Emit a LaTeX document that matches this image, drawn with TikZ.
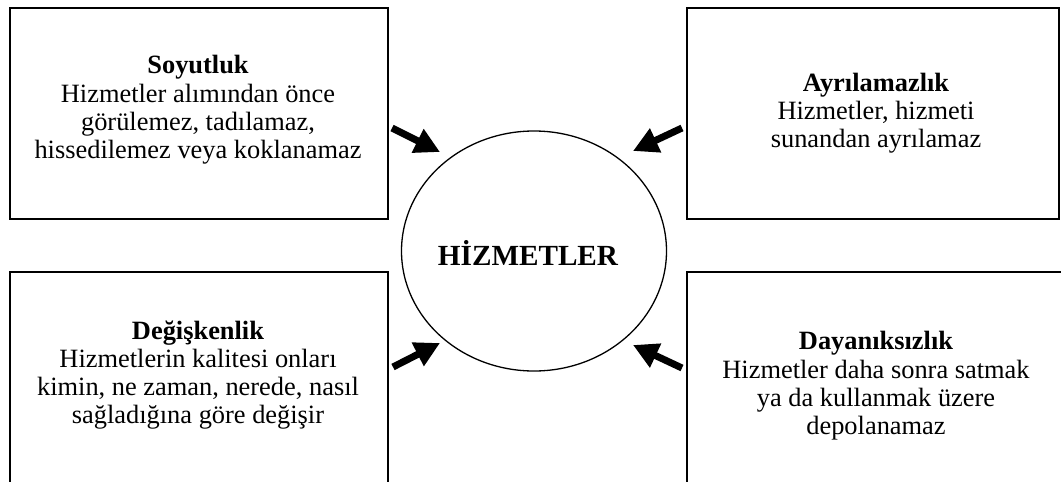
\documentclass[tikz,border=0pt]{standalone}
\usepackage{fontspec}
\setmainfont{Liberation Serif}
\usetikzlibrary{arrows.meta,shapes.geometric}
\begin{document}
\begin{tikzpicture}[x=1pt,y=-1pt,
  box/.style={draw, line width=1.6pt, inner sep=0pt, anchor=north west},
  boxtext/.style={align=center, inner sep=0pt, font=\fontsize{26.4}{28.3}\selectfont},
  arr/.style={line width=7pt, -{Triangle[length=25pt,width=25pt]}}]
\useasboundingbox (0,0) rectangle (1061,482);
\clip (0,0) rectangle (1061,482);
\node[box, minimum width=378pt, minimum height=211pt] (b1) at (9,7) {};
\node[box, minimum width=372pt, minimum height=211pt] (b2) at (686,7) {};
\node[box, minimum width=378pt, minimum height=215pt] (b3) at (9,271) {};
\node[box, minimum width=380pt, minimum height=215pt] (b4) at (686,271) {};
\node[boxtext] (t1) at (198,110) {\textbf{Soyutluk}\\Hizmetler alımından önce\\görülemez, tadılamaz,\\hissedilemez veya koklanamaz};
\node[boxtext] (t2) at (876,113) {\textbf{Ayrılamazlık}\\Hizmetler, hizmeti\\sunandan ayrılamaz};
\node[boxtext] (t3) at (198,375) {\textbf{Değişkenlik}\\Hizmetlerin kalitesi onları\\kimin, ne zaman, nerede, nasıl\\sağladığına göre değişir};
\node[boxtext] (t4) at (876,386) {\textbf{Dayanıksızlık}\\Hizmetler daha sonra satmak\\ya da kullanmak üzere\\depolanamaz};
\node[ellipse, draw, line width=1.3pt, minimum width=265pt, minimum height=240pt, inner sep=0pt] (c) at (534,251) {};
\node[inner sep=0pt, font=\fontsize{29.2}{32}\selectfont\bfseries] (ct) at (528,253) {HİZMETLER};
\coordinate (a1s) at (392,128); \coordinate (a1e) at (440,152);
\coordinate (a2s) at (682,128); \coordinate (a2e) at (633,151);
\coordinate (a3s) at (393,367); \coordinate (a3e) at (440,343);
\coordinate (a4s) at (682,368); \coordinate (a4e) at (633,345);
\draw[arr] (a1s) -- (a1e);
\draw[arr] (a2s) -- (a2e);
\draw[arr] (a3s) -- (a3e);
\draw[arr] (a4s) -- (a4e);
\end{tikzpicture}
\end{document}
